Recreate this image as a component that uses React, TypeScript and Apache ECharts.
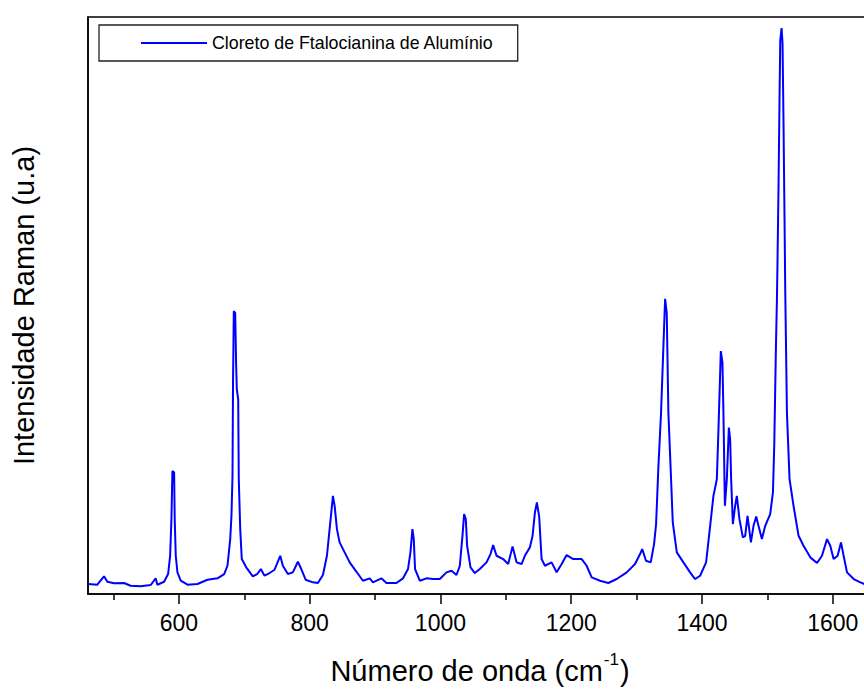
import React, { useEffect, useRef } from "react";
import * as echarts from "echarts";

const wavenumbers = [
  461.5, 475.2, 485.5, 490.6, 500.8, 516.1, 526.2, 541.6, 556.9, 564.5, 567.1, 577.4, 583.5, 586.6, 588.6,
  590.1, 592.7, 593.6, 595.2, 597.8, 602.8, 613.1, 628.4, 643.7, 659.0, 669.3, 674.3, 678.5, 680.4, 682.0,
  682.8, 684.0, 686.1, 687.6, 688.6, 690.7, 691.6, 693.8, 696.2, 703.0, 713.1, 719.8, 725.3, 731.0, 738.6,
  746.3, 755.0, 759.0, 766.7, 774.3, 782.0, 787.2, 793.8, 805.0, 812.6, 820.3, 826.4, 830.5, 835.6, 838.2,
  841.7, 845.8, 853.5, 861.2, 871.4, 881.5, 891.8, 896.8, 909.7, 917.4, 932.7, 942.8, 950.4, 954.1, 957.2,
  959.2, 961.2, 968.4, 978.6, 988.7, 999.0, 1009.2, 1016.9, 1024.6, 1029.6, 1033.7, 1036.2, 1038.8, 1040.8,
  1046.0, 1052.6, 1060.2, 1070.5, 1076.6, 1080.6, 1085.8, 1095.9, 1103.6, 1110.3, 1116.4, 1124.1, 1129.1,
  1136.8, 1140.9, 1144.5, 1147.5, 1151.0, 1154.7, 1159.8, 1170.0, 1177.7, 1185.4, 1193.0, 1203.1, 1216.0,
  1223.6, 1231.3, 1244.0, 1256.7, 1269.6, 1284.9, 1297.6, 1305.3, 1308.6, 1314.4, 1321.6, 1326.7, 1329.8,
  1333.3, 1337.4, 1341.0, 1343.6, 1346.1, 1348.6, 1352.3, 1355.3, 1361.5, 1371.6, 1381.8, 1389.5, 1397.1,
  1406.3, 1412.5, 1417.5, 1422.7, 1425.2, 1428.8, 1431.3, 1432.8, 1435.0, 1438.0, 1441.1, 1443.1, 1444.6,
  1447.2, 1450.7, 1453.3, 1457.3, 1462.5, 1466.1, 1469.6, 1474.8, 1478.8, 1482.9, 1486.4, 1491.6, 1496.7,
  1504.3, 1508.5, 1510.5, 1513.1, 1514.6, 1515.5, 1517.1, 1518.6, 1519.7, 1521.7, 1523.2, 1524.7, 1526.2,
  1527.3, 1529.9, 1533.9, 1540.0, 1547.7, 1555.3, 1565.6, 1575.9, 1583.5, 1591.2, 1596.2, 1601.3, 1607.4,
  1612.6, 1616.6, 1621.8, 1632.0, 1642.2, 1648.3, 1655.0,
];

const intensity = [
  100, 93, 177, 123, 107, 110, 83, 77, 90, 157, 93, 123, 200, 383, 750,
  1233, 1217, 750, 383, 217, 133, 93, 100, 143, 157, 200, 283, 550, 783, 1183,
  2117, 2833, 2817, 2283, 2050, 1950, 1150, 650, 350, 267, 177, 200, 250, 183, 210,
  243, 383, 283, 200, 217, 323, 250, 143, 117, 110, 190, 383, 650, 983, 883,
  650, 517, 417, 317, 225, 133, 157, 117, 157, 110, 110, 157, 250, 417, 650,
  550, 250, 133, 157, 150, 150, 217, 233, 190, 283, 583, 800, 750, 483,
  267, 210, 250, 317, 400, 490, 383, 350, 300, 477, 317, 300, 383,
  467, 583, 817, 917, 775, 350, 283, 317, 217, 300, 390, 350, 350,
  283, 167, 133, 110, 150, 217, 300, 400, 450, 333, 317, 500, 700,
  1270, 1817, 2483, 2957, 2817, 1817, 1217, 717, 417, 317, 217, 150, 183,
  317, 683, 983, 1150, 1650, 2433, 2317, 1817, 883, 1150, 1667, 1550, 1150,
  700, 883, 983, 750, 567, 583, 783, 517, 683, 777, 683, 550, 683,
  800, 1017, 1483, 2483, 2950, 3330, 4113, 4980, 5547, 5670, 5513, 4713, 3780,
  3050, 1817, 1150, 883, 583, 483, 367, 310, 383, 550, 483, 350, 383,
  517, 383, 217, 150, 117, 100, 95,
];

const majorTicks = [600, 800, 1000, 1200, 1400, 1600];
const minorTicks = [500, 700, 900, 1100, 1300, 1500];
const seriesName = "Cloreto de Ftalocianina de Alumínio";
const xTitle = "{a|Número de onda (cm}{s|-1}{a|)}";
const yTitle = "Intensidade Raman (u.a)";

const FONT = 'Arial, "Liberation Sans", sans-serif';

export default function App() {
  const ref = useRef<HTMLDivElement>(null);

  useEffect(() => {
    if (!ref.current) return;
    const chart = echarts.init(ref.current, null, { renderer: "svg" });
    const axisLineStyle = { color: "#000", width: 1.5 };
    chart.setOption({
      animation: false,
      backgroundColor: "#fff",
      textStyle: { fontFamily: FONT },
      grid: {
        left: 88,
        right: 0,
        top: 17,
        bottom: 95,
        show: true,
        borderColor: "#000",
        borderWidth: 1.5,
        backgroundColor: "transparent",
      },
      legend: {
        left: 99,
        top: 25,
        orient: "horizontal",
        padding: [9, 24, 9, 42],
        itemWidth: 66,
        itemHeight: 2,
        icon: "rect",
        borderColor: "#222",
        borderWidth: 1.3,
        textStyle: { fontSize: 17.8, color: "#000", fontFamily: FONT },
        data: [seriesName],
      },
      xAxis: [
        {
          type: "value",
          min: 461,
          max: 1660,
          position: "bottom",
          name: xTitle,
          nameLocation: "middle",
          nameGap: 57,
          nameTextStyle: {
            color: "#000",
            fontFamily: FONT,
            rich: {
              a: { fontSize: 29, color: "#000", fontFamily: FONT, lineHeight: 34, verticalAlign: "bottom" },
              s: { fontSize: 17, color: "#000", fontFamily: FONT, lineHeight: 34, verticalAlign: "top", padding: [0, 1, 0, 1] },
            },
          },
          axisLine: { show: true, onZero: false, lineStyle: axisLineStyle },
          axisTick: { show: true, inside: false, length: 10, customValues: majorTicks, lineStyle: axisLineStyle },
          axisLabel: {
            show: true,
            customValues: majorTicks,
            formatter: (v: number) => String(v),
            fontSize: 23,
            color: "#000",
            fontFamily: FONT,
            margin: 17,
          },
          splitLine: { show: false },
        },
        {
          type: "value",
          min: 461,
          max: 1660,
          position: "bottom",
          axisLine: { show: false },
          axisTick: { show: true, inside: false, length: 6, customValues: minorTicks, lineStyle: axisLineStyle },
          axisLabel: { show: false },
          splitLine: { show: false },
        },
      ],
      yAxis: {
        type: "value",
        min: 0,
        max: 5780,
        name: yTitle,
        nameLocation: "middle",
        nameGap: 50,
        nameTextStyle: { fontSize: 29, color: "#000", fontFamily: FONT },
        axisLine: { show: true, onZero: false, lineStyle: axisLineStyle },
        axisTick: { show: false },
        axisLabel: { show: false },
        splitLine: { show: false },
      },
      series: [
        {
          type: "line",
          name: seriesName,
          xAxisIndex: 0,
          data: wavenumbers.map((w, i) => [w, intensity[i]]),
          symbol: "none",
          clip: true,
          lineStyle: { color: "#0000ff", width: 2 },
          itemStyle: { color: "#0000ff" },
        },
      ],
    });
    return () => chart.dispose();
  }, []);

  return (
    <div style={{ position: "fixed", left: 0, top: 0, width: 864, height: 690, overflow: "hidden", background: "#fff" }}>
      <div ref={ref} style={{ position: "absolute", left: 0, top: 0, width: 872, height: 690 }} />
    </div>
  );
}
